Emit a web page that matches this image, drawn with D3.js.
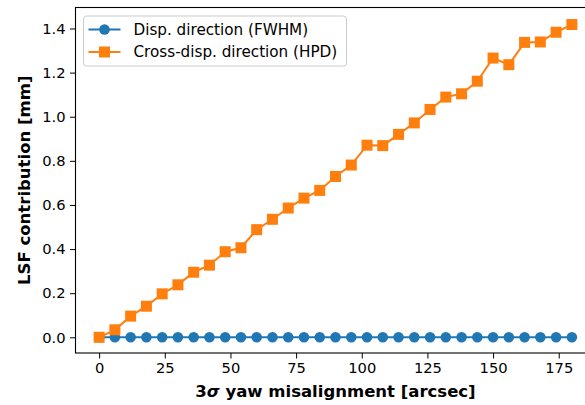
<!DOCTYPE html>
<html lang="en">
<head>
    <meta charset="UTF-8">
    <title>LSF contribution vs yaw misalignment</title>
    <script src="https://d3js.org/d3.v7.min.js"></script>
    <style>
        body {
            margin: 0;
            font-family: "DejaVu Sans", sans-serif;
        }
        svg {
            display: block;
            overflow: hidden;
        }
        .tick text {
            font-size: 14.7px;
            fill: #000;
        }
        .axis-label {
            font-size: 16.5px;
            font-weight: bold;
        }
        .legend text {
            font-size: 15.2px;
        }
    </style>
</head>
<body>
    <div id="chart"></div>
    <script>
        const yaw = [0, 6, 12, 18, 24, 30, 36, 42, 48, 54, 60, 66, 72, 78, 84, 90,
            96, 102, 108, 114, 120, 126, 132, 138, 144, 150, 156, 162, 168, 174, 180];
        const dispFwhm = [0, 0, 0, 0, 0, 0, 0, 0, 0, 0, 0, 0, 0, 0, 0, 0,
            0, 0, 0, 0, 0, 0, 0, 0, 0, 0, 0, 0, 0, 0, 0];
        const crossHpd = [0.0, 0.034, 0.096, 0.141, 0.197, 0.238, 0.295, 0.327, 0.388, 0.406, 0.488, 0.535,
            0.586, 0.631, 0.666, 0.729, 0.781, 0.871, 0.869, 0.920, 0.972, 1.033, 1.089, 1.104,
            1.161, 1.266, 1.236, 1.337, 1.339, 1.383, 1.418];
        const xTicks = [0, 25, 50, 75, 100, 125, 150, 175];
        const yTicks = [0.0, 0.2, 0.4, 0.6, 0.8, 1.0, 1.2, 1.4];
        const seriesNames = ["Disp. direction (FWHM)", "Cross-disp. direction (HPD)"];

        const W = 585, H = 405;
        const margin = { top: 7.5, right: -10.5, bottom: 52, left: 75.5 };
        const width = W - margin.left - margin.right;
        const height = H - margin.top - margin.bottom;

        const svg = d3.select("#chart").append("svg")
            .attr("width", W)
            .attr("height", H);

        const g = svg.append("g")
            .attr("transform", `translate(${margin.left},${margin.top})`);

        const x = d3.scaleLinear().domain([-9, 189]).range([0, width]);
        const y = d3.scaleLinear().domain([-0.0712, 1.4952]).range([height, 0]);

        const xAxis = g.append("g")
            .attr("transform", `translate(0,${height})`)
            .call(d3.axisBottom(x).tickValues(xTicks).tickSize(5.5).tickPadding(4).tickFormat(d3.format("d")));
        const yAxis = g.append("g")
            .call(d3.axisLeft(y).tickValues(yTicks).tickSize(5.5).tickPadding(4.5).tickFormat(d3.format(".1f")));
        [xAxis, yAxis].forEach(a => {
            a.select(".domain").remove();
            a.selectAll(".tick line").attr("stroke", "#000").attr("stroke-width", 1);
            a.selectAll(".tick text").attr("font-family", "DejaVu Sans");
        });

        // frame
        g.append("rect")
            .attr("width", width).attr("height", height)
            .attr("fill", "none").attr("stroke", "#000").attr("stroke-width", 1.1);

        const line = d3.line().x((d, i) => x(yaw[i])).y(d => y(d));

        // dispersion direction
        g.append("path").datum(dispFwhm)
            .attr("fill", "none").attr("stroke", "#1f77b4").attr("stroke-width", 2)
            .attr("d", line);
        g.selectAll(".dot").data(dispFwhm).enter().append("circle")
            .attr("cx", (d, i) => x(yaw[i]))
            .attr("cy", d => y(d))
            .attr("r", 5.3)
            .attr("fill", "#1f77b4");

        // cross-dispersion direction
        const sq = 11;
        g.append("path").datum(crossHpd)
            .attr("fill", "none").attr("stroke", "#ff7f0e").attr("stroke-width", 2)
            .attr("d", line);
        g.selectAll(".sq").data(crossHpd).enter().append("rect")
            .attr("x", (d, i) => x(yaw[i]) - sq / 2)
            .attr("y", d => y(d) - sq / 2)
            .attr("width", sq).attr("height", sq)
            .attr("fill", "#ff7f0e");

        // legend
        const legend = g.append("g").attr("class", "legend").attr("transform", "translate(8,8.5)");
        legend.append("rect")
            .attr("width", 263).attr("height", 50).attr("rx", 3)
            .attr("fill", "#fff").attr("fill-opacity", 0.8)
            .attr("stroke", "#cccccc");
        const colors = ["#1f77b4", "#ff7f0e"];
        seriesNames.forEach((name, i) => {
            const row = legend.append("g").attr("transform", `translate(0,${13.5 + i * 22.5})`);
            row.append("line").attr("x1", 5).attr("x2", 37)
                .attr("stroke", colors[i]).attr("stroke-width", 2);
            if (i === 0) {
                row.append("circle").attr("cx", 21).attr("r", 5.3).attr("fill", colors[i]);
            } else {
                row.append("rect").attr("x", 21 - sq / 2).attr("y", -sq / 2)
                    .attr("width", sq).attr("height", sq).attr("fill", colors[i]);
            }
            row.append("text").attr("x", 50).attr("dy", "0.36em").text(name);
        });

        // axis labels
        svg.append("text").attr("class", "axis-label")
            .attr("x", margin.left + width / 2).attr("y", 396.5)
            .attr("text-anchor", "middle")
            .html("3<tspan font-style=\"italic\">σ</tspan> yaw misalignment [arcsec]");
        svg.append("text").attr("class", "axis-label")
            .attr("transform", `translate(30,${margin.top + height / 2}) rotate(-90)`)
            .attr("text-anchor", "middle")
            .text("LSF contribution [mm]");
    </script>
</body>
</html>
